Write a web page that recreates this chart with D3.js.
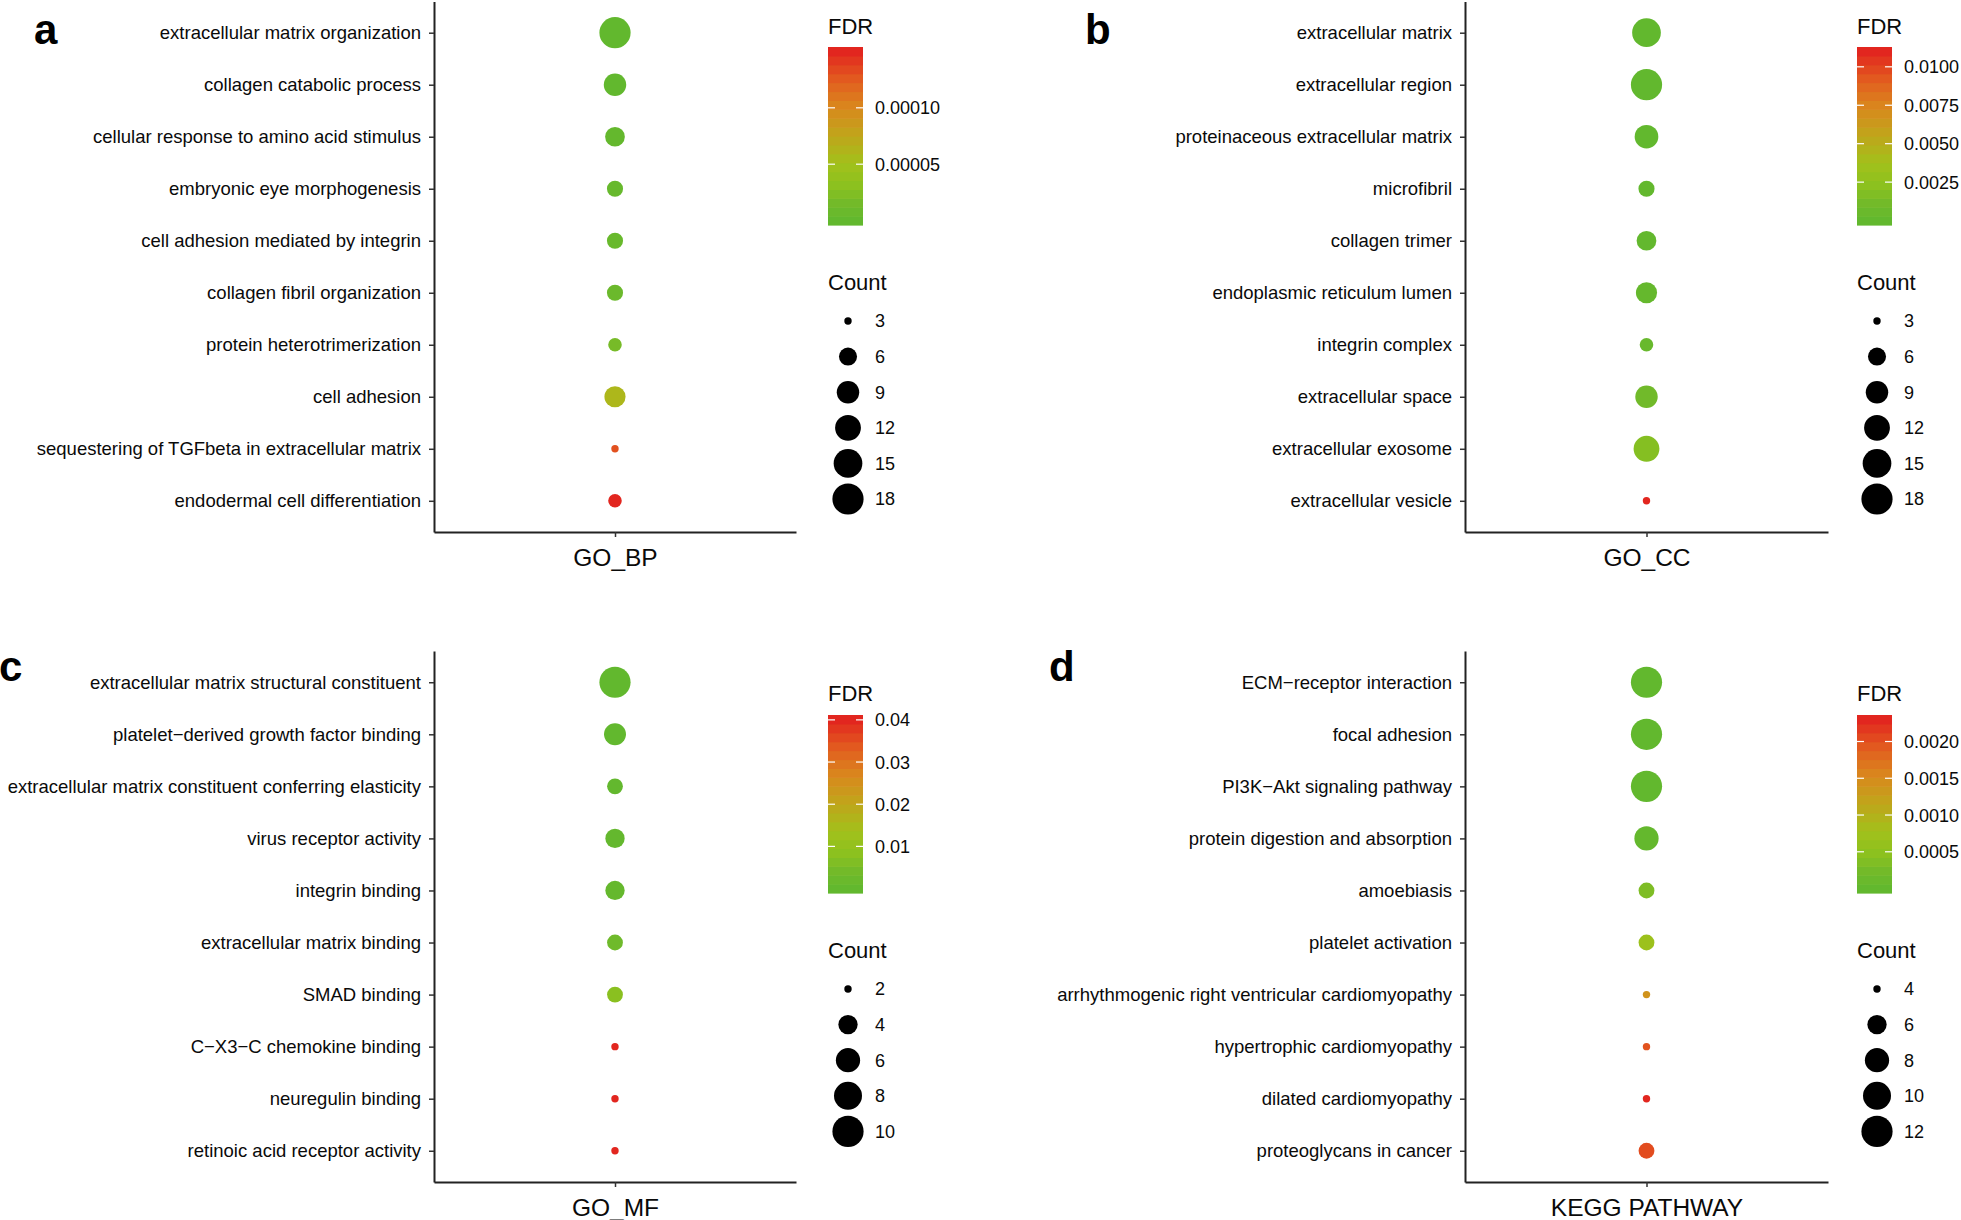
<!DOCTYPE html>
<html><head><meta charset="utf-8">
<script src="https://cdn.jsdelivr.net/npm/d3@7"></script>
<style>
body{margin:0;background:#fff}
text{font-family:"Liberation Sans",Arial,sans-serif}
</style>
</head><body>
<svg id="chart" width="1961" height="1220"></svg>
<script>
// ---------- data ----------
const bpTerms = ["extracellular matrix organization","collagen catabolic process","cellular response to amino acid stimulus","embryonic eye morphogenesis","cell adhesion mediated by integrin","collagen fibril organization","protein heterotrimerization","cell adhesion","sequestering of TGFbeta in extracellular matrix","endodermal cell differentiation"];
const bpCount = [18, 9, 7, 5, 5, 5, 4, 8, 3, 4];
const bpFDR = [1e-9, 1e-7, 2e-6, 5e-6, 6e-6, 8e-6, 1.8e-5, 6.0e-5, 1.3e-4, 1.5e-4];
const bpFdrTicks = [0.00005, 0.00010];
const bpFdrTickLabels = ["0.00005", "0.00010"];
const bpCountBreaks = [3, 6, 9, 12, 15, 18];

const ccTerms = ["extracellular matrix","extracellular region","proteinaceous extracellular matrix","microfibril","collagen trimer","endoplasmic reticulum lumen","integrin complex","extracellular space","extracellular exosome","extracellular vesicle"];
const ccCount = [15, 18, 10, 5, 7, 8, 4, 9, 12, 3];
const ccFDR = [1e-12, 1e-10, 1e-8, 5e-5, 1e-4, 2e-4, 4e-4, 1.0e-3, 2.0e-3, 0.0110];
const ccFdrTicks = [0.0025, 0.0050, 0.0075, 0.0100];
const ccFdrTickLabels = ["0.0025", "0.0050", "0.0075", "0.0100"];
const ccCountBreaks = [3, 6, 9, 12, 15, 18];

const mfTerms = ["extracellular matrix structural constituent","platelet\u2212derived growth factor binding","extracellular matrix constituent conferring elasticity","virus receptor activity","integrin binding","extracellular matrix binding","SMAD binding","C\u2212X3\u2212C chemokine binding","neuregulin binding","retinoic acid receptor activity"];
const mfCount = [10, 5, 3, 4, 4, 3, 3, 2, 2, 2];
const mfFDR = [1e-8, 2e-5, 3e-4, 5e-4, 8e-4, 3.3e-3, 8.0e-3, 0.0401, 0.0401, 0.0401];
const mfFdrTicks = [0.01, 0.02, 0.03, 0.04];
const mfFdrTickLabels = ["0.01", "0.02", "0.03", "0.04"];
const mfCountBreaks = [2, 4, 6, 8, 10];

const keggTerms = ["ECM\u2212receptor interaction","focal adhesion","PI3K\u2212Akt signaling pathway","protein digestion and absorption","amoebiasis","platelet activation","arrhythmogenic right ventricular cardiomyopathy","hypertrophic cardiomyopathy","dilated cardiomyopathy","proteoglycans in cancer"];
const keggCount = [12, 12, 12, 8, 5, 5, 4, 4, 4, 5];
const keggFDR = [1e-8, 1e-6, 5e-6, 3e-5, 3.5e-4, 7.0e-4, 1.40e-3, 1.98e-3, 2.30e-3, 2.03e-3];
const keggFdrTicks = [0.0005, 0.0010, 0.0015, 0.0020];
const keggFdrTickLabels = ["0.0005", "0.0010", "0.0015", "0.0020"];
const keggCountBreaks = [4, 6, 8, 10, 12];

// ---------- style ----------
const gradStops = [0, 0.10, 0.21, 0.34, 0.53, 0.67, 0.82, 1];
const gradColors = ["#62B82E", "#72BA2A", "#8CC11F", "#A2C11B", "#C4A11B", "#D9881D", "#E2601F", "#E2261F"];

const svg = d3.select("#chart");

function panel(o) {
  const g = svg.append("g");
  const y = d3.scalePoint().domain(o.terms).range([o.top, o.bottom]).padding(0.6);
  const x = d3.scalePoint().domain([o.xLabel]).range([o.left, o.right]).padding(0.6);
  const fMin = d3.min(o.fdr), fMax = d3.max(o.fdr);
  const cMin = d3.min(o.count), cMax = d3.max(o.count);
  const color = d3.scaleLinear()
    .domain(gradStops.map(s => fMin + s * (fMax - fMin)))
    .range(gradColors).interpolate(d3.interpolateRgb).clamp(true);
  const rNorm = d3.scaleLinear().domain([cMin, cMax]).range([0, 1]).clamp(true);
  const rSqrt = d3.scaleSqrt().domain([0, 1]).range([3.7, 15.6]);
  const r = v => rSqrt(rNorm(v));

  // axes
  const ya = g.append("g").attr("transform", `translate(${o.left},0)`)
    .call(d3.axisLeft(y).tickSize(5).tickSizeOuter(0).tickPadding(8));
  ya.selectAll("text").attr("font-size", "18.5px").attr("fill", "#0a0a0a")
    .style("font-family", '"Liberation Sans",Arial,sans-serif');
  const xa = g.append("g").attr("transform", `translate(0,${o.bottom})`)
    .call(d3.axisBottom(x).tickSize(5).tickSizeOuter(0).tickPadding(12));
  xa.selectAll("text").attr("font-size", "24.5px").attr("fill", "#0a0a0a")
    .style("font-family", '"Liberation Sans",Arial,sans-serif');
  [ya, xa].forEach(a => {
    a.select(".domain").attr("stroke", "#222").attr("stroke-width", 2);
    a.selectAll(".tick line").attr("stroke", "#333").attr("stroke-width", 1.5);
  });

  // points
  g.append("g").selectAll("circle").data(o.terms).join("circle")
    .attr("cx", x(o.xLabel))
    .attr("cy", d => y(d))
    .attr("r", (d, i) => r(o.count[i]))
    .attr("fill", (d, i) => color(o.fdr[i]));

  // panel letter
  g.append("text").attr("x", o.letterX).attr("y", o.letterY)
    .attr("font-size", "42px").attr("font-weight", "bold").attr("fill", "#000").text(o.letter);

  // FDR legend
  const L = o.legX, bw = 35;
  g.append("text").attr("x", L).attr("y", o.fdrTitleY).attr("font-size", "22px").attr("fill", "#0a0a0a").text("FDR");
  const nbin = 20, H = o.barBottom - o.barTop, bh = H / nbin;
  const bins = d3.range(nbin);
  g.append("g").selectAll("rect").data(bins).join("rect")
    .attr("x", L).attr("width", bw)
    .attr("y", i => o.barBottom - (i + 1) * bh).attr("height", bh + 0.6)
    .attr("fill", i => color(fMin + i / (nbin - 1) * (fMax - fMin)));
  const barPos = d3.scaleLinear().domain([fMin, fMax]).range([o.barBottom - bh / 2, o.barTop + bh / 2]);
  o.fdrTicks.forEach((t, i) => {
    const p = barPos(t);
    g.append("line").attr("x1", L).attr("x2", L + 7).attr("y1", p).attr("y2", p).attr("stroke", "#fff").attr("stroke-width", 1.2);
    g.append("line").attr("x1", L + bw - 7).attr("x2", L + bw).attr("y1", p).attr("y2", p).attr("stroke", "#fff").attr("stroke-width", 1.2);
    g.append("text").attr("x", L + 47).attr("y", p).attr("dy", "0.36em").attr("font-size", "18px").attr("fill", "#0a0a0a").text(o.fdrTickLabels[i]);
  });

  // Count legend
  g.append("text").attr("x", L).attr("y", o.countTitleY).attr("font-size", "22px").attr("fill", "#0a0a0a").text("Count");
  o.countBreaks.forEach((v, i) => {
    const cy = o.countY0 + i * o.countStep;
    g.append("circle").attr("cx", L + 20).attr("cy", cy).attr("r", r(v)).attr("fill", "#000");
    g.append("text").attr("x", L + 47).attr("y", cy).attr("dy", "0.36em").attr("font-size", "18px").attr("fill", "#0a0a0a").text(v);
  });
}

const topRow = {top: 1.5, bottom: 532, fdrTitleY: 34, barTop: 47, barBottom: 225, countTitleY: 290, countY0: 321, countStep: 35.6, letterY: 44};
const botRow = {top: 651, bottom: 1182, fdrTitleY: 701, barTop: 715, barBottom: 893, countTitleY: 958, countY0: 989, countStep: 35.6, letterY: 681};
const leftCol = {left: 434, right: 796, legX: 828};
const rightCol = {left: 1465, right: 1828, legX: 1857};

panel(Object.assign({}, topRow, leftCol, {letter: "a", letterX: 34, xLabel: "GO_BP", terms: bpTerms, count: bpCount, fdr: bpFDR, fdrTicks: bpFdrTicks, fdrTickLabels: bpFdrTickLabels, countBreaks: bpCountBreaks}));
panel(Object.assign({}, topRow, rightCol, {letter: "b", letterX: 1085, xLabel: "GO_CC", terms: ccTerms, count: ccCount, fdr: ccFDR, fdrTicks: ccFdrTicks, fdrTickLabels: ccFdrTickLabels, countBreaks: ccCountBreaks}));
panel(Object.assign({}, botRow, leftCol, {letter: "c", letterX: -1, xLabel: "GO_MF", terms: mfTerms, count: mfCount, fdr: mfFDR, fdrTicks: mfFdrTicks, fdrTickLabels: mfFdrTickLabels, countBreaks: mfCountBreaks}));
panel(Object.assign({}, botRow, rightCol, {letter: "d", letterX: 1049, xLabel: "KEGG PATHWAY", terms: keggTerms, count: keggCount, fdr: keggFDR, fdrTicks: keggFdrTicks, fdrTickLabels: keggFdrTickLabels, countBreaks: keggCountBreaks}));
</script>
</body></html>
